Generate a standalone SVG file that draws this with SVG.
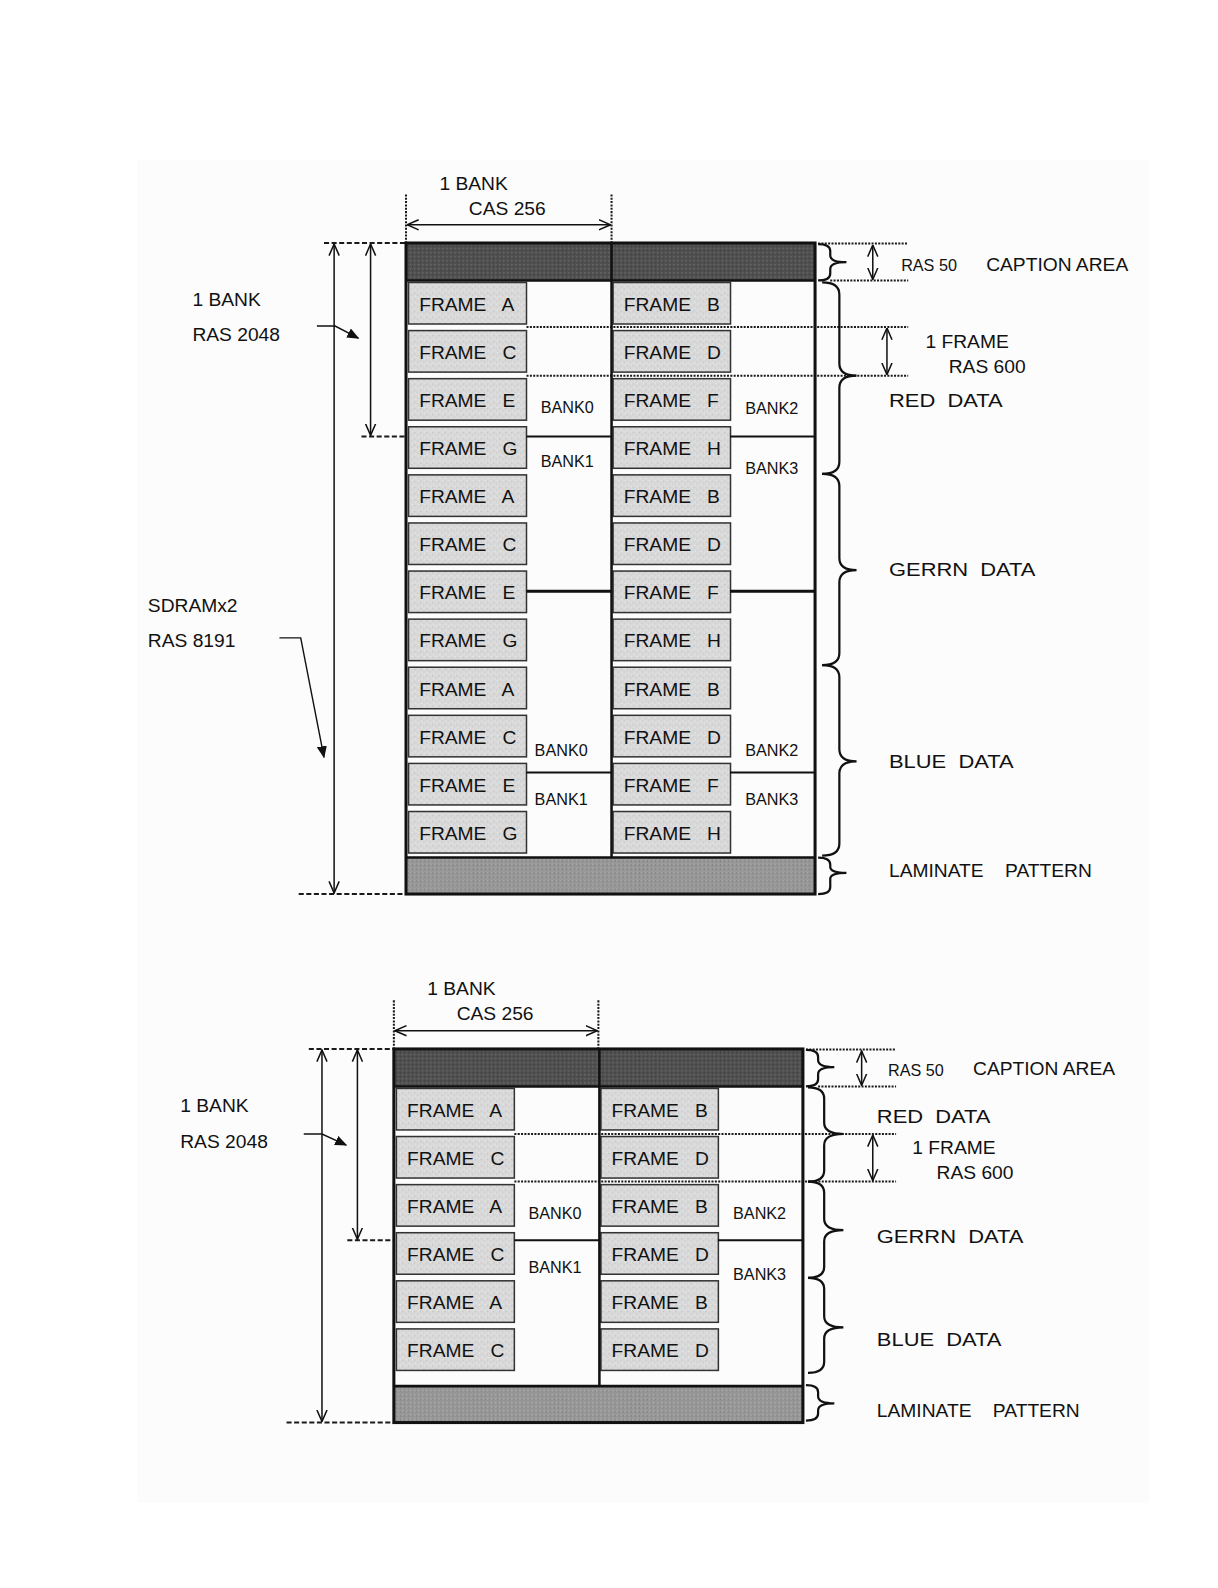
<svg xmlns="http://www.w3.org/2000/svg" width="1218" height="1588" viewBox="0 0 1218 1588">
<style>
text{font-family:"Liberation Sans",Arial,sans-serif;fill:#111;white-space:pre}
.t{font-size:19px}
.s{font-size:16px}
.f{font-size:19px;word-spacing:2.7px}
.d{font-size:19px}
.fr{fill:url(#stip);stroke:#333;stroke-width:1.5}
.cap{fill:url(#dark);stroke:none}
.lam{fill:url(#mid);stroke:none}
.box{fill:none;stroke:#111;stroke-width:3}
.div{stroke:#111;stroke-width:2.5;fill:none}
.bank{stroke:#111;stroke-width:2;fill:none}
.dot{stroke:#1a1a1a;stroke-width:2;stroke-dasharray:2 1.3;fill:none}
.dash{stroke:#1a1a1a;stroke-width:2;stroke-dasharray:5 2.5;fill:none}
.dim{stroke:#111;stroke-width:1.5;fill:none;marker-start:url(#oa);marker-end:url(#oa)}
.ptr{stroke:#111;stroke-width:1.4;fill:none;marker-end:url(#fa)}
.br{stroke:#111;stroke-width:2.2;fill:none}
</style>
<defs>
<pattern id="stip" width="6" height="6" patternUnits="userSpaceOnUse">
<rect width="6" height="6" fill="#d9d9d9"/>
<rect x="1" y="1" width="1" height="1" fill="#b8b8b8"/>
<rect x="4" y="3" width="1" height="1" fill="#c2c2c2"/>
<rect x="2" y="4" width="1" height="1" fill="#eeeeee"/>
<rect x="5" y="0" width="1" height="1" fill="#ebebeb"/>
</pattern>
<pattern id="dark" width="4" height="4" patternUnits="userSpaceOnUse">
<rect width="4" height="4" fill="#505050"/>
<rect x="1" y="1" width="1" height="1" fill="#777"/>
<rect x="3" y="3" width="1" height="1" fill="#333"/>
</pattern>
<pattern id="mid" width="4" height="4" patternUnits="userSpaceOnUse">
<rect width="4" height="4" fill="#979797"/>
<rect x="1" y="1" width="1" height="1" fill="#b8b8b8"/>
<rect x="3" y="2" width="1" height="1" fill="#777"/>
</pattern>
<marker id="oa" viewBox="0 0 12 12" markerWidth="12" markerHeight="12" refX="11.5" refY="6" orient="auto-start-reverse" markerUnits="userSpaceOnUse">
<path d="M0,1 L11.5,6 L0,11" fill="none" stroke="#111" stroke-width="1.5"/>
</marker>
<marker id="fa" viewBox="0 0 12 10" markerWidth="12" markerHeight="10" refX="11" refY="5" orient="auto" markerUnits="userSpaceOnUse">
<path d="M0,0 L12,5 L0,10 Z" fill="#111"/>
</marker>
</defs>
<rect x="137" y="160" width="1012" height="1343" fill="#fcfcfc"/>
<g transform="scale(1.0125)">
<!-- ===== TOP DIAGRAM ===== -->
<g id="top">
<g id="top-labels">
<text class="t" x="434" y="188">1 BANK</text>
<text class="t" x="463" y="212">CAS 256</text>
<text class="t" x="190" y="302">1 BANK</text>
<text class="t" x="190" y="337">RAS 2048</text>
<text class="t" x="146" y="604">SDRAMx2</text>
<text class="t" x="146" y="639">RAS 8191</text>
<text class="s" x="890" y="268">RAS 50</text>
<text class="t" x="974" y="268">CAPTION AREA</text>
<text class="t" x="914" y="344">1 FRAME</text>
<text class="t" x="937" y="368">RAS 600</text>
<text class="d" transform="translate(878,402) scale(1.14,1)">RED  DATA</text>
<text class="d" transform="translate(878,569) scale(1.14,1)">GERRN  DATA</text>
<text class="d" transform="translate(878,759) scale(1.14,1)">BLUE  DATA</text>
<text class="t" x="878" y="866">LAMINATE    PATTERN</text>
</g>
<g id="top-memory">
<rect class="cap" x="401" y="240" width="404" height="37"/>
<rect class="lam" x="401" y="847" width="404" height="36"/>
</g>
<g id="top-frames">
<g id="tA0"><rect class="fr" x="403.5" y="279" width="116.5" height="41"/><text class="f" x="414" y="307">FRAME  A</text></g>
<g id="tB0"><rect class="fr" x="605.5" y="279" width="116" height="41"/><text class="f" x="616" y="307">FRAME  B</text></g>
<g id="tC0"><rect class="fr" x="403.5" y="326.5" width="116.5" height="41"/><text class="f" x="414" y="354.5">FRAME  C</text></g>
<g id="tD0"><rect class="fr" x="605.5" y="326.5" width="116" height="41"/><text class="f" x="616" y="354.5">FRAME  D</text></g>
<g id="tE0"><rect class="fr" x="403.5" y="374" width="116.5" height="41"/><text class="f" x="414" y="402">FRAME  E</text></g>
<g id="tF0"><rect class="fr" x="605.5" y="374" width="116" height="41"/><text class="f" x="616" y="402">FRAME  F</text></g>
<g id="tG0"><rect class="fr" x="403.5" y="421.5" width="116.5" height="41"/><text class="f" x="414" y="449.5">FRAME  G</text></g>
<g id="tH0"><rect class="fr" x="605.5" y="421.5" width="116" height="41"/><text class="f" x="616" y="449.5">FRAME  H</text></g>
<g id="tA1"><rect class="fr" x="403.5" y="469" width="116.5" height="41"/><text class="f" x="414" y="497">FRAME  A</text></g>
<g id="tB1"><rect class="fr" x="605.5" y="469" width="116" height="41"/><text class="f" x="616" y="497">FRAME  B</text></g>
<g id="tC1"><rect class="fr" x="403.5" y="516.5" width="116.5" height="41"/><text class="f" x="414" y="544.5">FRAME  C</text></g>
<g id="tD1"><rect class="fr" x="605.5" y="516.5" width="116" height="41"/><text class="f" x="616" y="544.5">FRAME  D</text></g>
<g id="tE1"><rect class="fr" x="403.5" y="564" width="116.5" height="41"/><text class="f" x="414" y="592">FRAME  E</text></g>
<g id="tF1"><rect class="fr" x="605.5" y="564" width="116" height="41"/><text class="f" x="616" y="592">FRAME  F</text></g>
<g id="tG1"><rect class="fr" x="403.5" y="611.5" width="116.5" height="41"/><text class="f" x="414" y="639.5">FRAME  G</text></g>
<g id="tH1"><rect class="fr" x="605.5" y="611.5" width="116" height="41"/><text class="f" x="616" y="639.5">FRAME  H</text></g>
<g id="tA2"><rect class="fr" x="403.5" y="659" width="116.5" height="41"/><text class="f" x="414" y="687">FRAME  A</text></g>
<g id="tB2"><rect class="fr" x="605.5" y="659" width="116" height="41"/><text class="f" x="616" y="687">FRAME  B</text></g>
<g id="tC2"><rect class="fr" x="403.5" y="706.5" width="116.5" height="41"/><text class="f" x="414" y="734.5">FRAME  C</text></g>
<g id="tD2"><rect class="fr" x="605.5" y="706.5" width="116" height="41"/><text class="f" x="616" y="734.5">FRAME  D</text></g>
<g id="tE2"><rect class="fr" x="403.5" y="754" width="116.5" height="41"/><text class="f" x="414" y="782">FRAME  E</text></g>
<g id="tF2"><rect class="fr" x="605.5" y="754" width="116" height="41"/><text class="f" x="616" y="782">FRAME  F</text></g>
<g id="tG2"><rect class="fr" x="403.5" y="801.5" width="116.5" height="41"/><text class="f" x="414" y="829.5">FRAME  G</text></g>
<g id="tH2"><rect class="fr" x="605.5" y="801.5" width="116" height="41"/><text class="f" x="616" y="829.5">FRAME  H</text></g>
</g>
<g id="top-banks">
<text class="s" x="534" y="408">BANK0</text>
<text class="s" x="534" y="461">BANK1</text>
<text class="s" x="736" y="409">BANK2</text>
<text class="s" x="736" y="468">BANK3</text>
<text class="s" x="528" y="747">BANK0</text>
<text class="s" x="528" y="795">BANK1</text>
<text class="s" x="736" y="747">BANK2</text>
<text class="s" x="736" y="795">BANK3</text>
</g>
<g id="top-connectors">
<path class="dot" d="M401,192 V240 M604,192 V240"/>
<path class="dim" d="M402,222 H603"/>
<path class="dot" d="M520,323 H897 M520,371 H897 M808,240.5 H897 M820,277 H897"/>
<path class="bank" d="M520,431 H604 M721,431 H805 M520,763 H604 M721,763 H805"/>
<path class="bank" style="stroke-width:3" d="M520,584 H604 M721,584 H805"/>
<path class="dash" d="M320,240 H401 M295,883 H401 M357,431 H401"/>
<path class="dim" d="M330,241 V882"/>
<path class="dim" d="M366,241 V430"/>
<path class="ptr" d="M313,322 H331 L354,334"/>
<path class="ptr" d="M276,630 H297 L320,748"/>
<path class="dim" d="M862,242 V276"/>
<path class="dim" d="M876,324 V370"/>
<path class="br" d="M808,241 Q820,241 820,248 L820,252 Q820,259 836,259 Q820,259 820,266 L820,270 Q820,277 808,277"/>
<path class="br" d="M812,279 Q829,279 829,291 L829,359 Q829,371 846,371 Q829,371 829,383 L829,456 Q829,468 812,468"/>
<path class="br" d="M812,468 Q829,468 829,480 L829,551 Q829,563 846,563 Q829,563 829,575 L829,645 Q829,657 812,657"/>
<path class="br" d="M812,657 Q829,657 829,669 L829,740 Q829,752 846,752 Q829,752 829,764 L829,833 Q829,845 812,845"/>
<path class="br" d="M808,847 Q820,847 820,854 L820,856 Q820,862 836,862 Q820,862 820,868 L820,876 Q820,883 808,883"/>
</g>
<g id="top-frame-lines">
<path class="div" d="M604,240 V847"/>
<path class="div" d="M401,277 H805 M401,847 H805"/>
<rect class="box" x="401" y="240" width="404" height="643"/>
</g>
</g>

<!-- ===== BOTTOM DIAGRAM ===== -->
<g id="bottom" transform="translate(-12,796)">
<g id="bot-labels">
<text class="t" x="434" y="187">1 BANK</text>
<text class="t" x="463" y="211">CAS 256</text>
<text class="t" x="190" y="302">1 BANK</text>
<text class="t" x="190" y="338">RAS 2048</text>
<text class="s" x="889" y="267">RAS 50</text>
<text class="t" x="973" y="266">CAPTION AREA</text>
<text class="d" transform="translate(878,313) scale(1.14,1)">RED  DATA</text>
<text class="t" x="913" y="344">1 FRAME</text>
<text class="t" x="937" y="368">RAS 600</text>
<text class="d" transform="translate(878,432) scale(1.14,1)">GERRN  DATA</text>
<text class="d" transform="translate(878,533) scale(1.14,1)">BLUE  DATA</text>
<text class="t" x="878" y="604">LAMINATE    PATTERN</text>
</g>
<g id="bot-memory">
<rect class="cap" x="401" y="240" width="404" height="37"/>
<rect class="lam" x="401" y="573" width="404" height="36"/>
</g>
<g id="bot-frames">
<g id="bA0"><rect class="fr" x="403.5" y="279" width="116.5" height="41"/><text class="f" x="414" y="307">FRAME  A</text></g>
<g id="bB0"><rect class="fr" x="605.5" y="279" width="116" height="41"/><text class="f" x="616" y="307">FRAME  B</text></g>
<g id="bC0"><rect class="fr" x="403.5" y="326.5" width="116.5" height="41"/><text class="f" x="414" y="354.5">FRAME  C</text></g>
<g id="bD0"><rect class="fr" x="605.5" y="326.5" width="116" height="41"/><text class="f" x="616" y="354.5">FRAME  D</text></g>
<g id="bA1"><rect class="fr" x="403.5" y="374" width="116.5" height="41"/><text class="f" x="414" y="402">FRAME  A</text></g>
<g id="bB1"><rect class="fr" x="605.5" y="374" width="116" height="41"/><text class="f" x="616" y="402">FRAME  B</text></g>
<g id="bC1"><rect class="fr" x="403.5" y="421.5" width="116.5" height="41"/><text class="f" x="414" y="449.5">FRAME  C</text></g>
<g id="bD1"><rect class="fr" x="605.5" y="421.5" width="116" height="41"/><text class="f" x="616" y="449.5">FRAME  D</text></g>
<g id="bA2"><rect class="fr" x="403.5" y="469" width="116.5" height="41"/><text class="f" x="414" y="497">FRAME  A</text></g>
<g id="bB2"><rect class="fr" x="605.5" y="469" width="116" height="41"/><text class="f" x="616" y="497">FRAME  B</text></g>
<g id="bC2"><rect class="fr" x="403.5" y="516.5" width="116.5" height="41"/><text class="f" x="414" y="544.5">FRAME  C</text></g>
<g id="bD2"><rect class="fr" x="605.5" y="516.5" width="116" height="41"/><text class="f" x="616" y="544.5">FRAME  D</text></g>
</g>
<g id="bot-banks">
<text class="s" x="534" y="408">BANK0</text>
<text class="s" x="534" y="461">BANK1</text>
<text class="s" x="736" y="408">BANK2</text>
<text class="s" x="736" y="468">BANK3</text>
</g>
<g id="bot-connectors">
<path class="dot" d="M401,192 V240 M603,192 V240"/>
<path class="dim" d="M402,222 H602"/>
<path class="dot" d="M520,324 H897 M520,371 H897 M808,240.5 H897 M820,277 H897"/>
<path class="bank" d="M520,429 H604 M721,429 H805"/>
<path class="dash" d="M317,240 H401 M295,609 H401 M355,429 H401"/>
<path class="dim" d="M330,241 V608"/>
<path class="dim" d="M365,241 V428"/>
<path class="ptr" d="M312,324 H330 L354,335"/>
<path class="dim" d="M863,242 V276"/>
<path class="dim" d="M874,325 V370"/>
<path class="br" d="M808,241 Q820,241 820,248 L820,251 Q820,258 836,258 Q820,258 820,265 L820,270 Q820,277 808,277"/>
<path class="br" d="M810,278 Q826,278 826,289 L826,313 Q826,324 845,324 Q826,324 826,335 L826,360 Q826,371 810,371"/>
<path class="br" d="M810,371 Q826,371 826,382 L826,408 Q826,419 845,419 Q826,419 826,430 L826,455 Q826,466 810,466"/>
<path class="br" d="M810,466 Q826,466 826,477 L826,504 Q826,515 845,515 Q826,515 826,526 L826,549 Q826,560 810,560"/>
<path class="br" d="M808,572 Q820,572 820,579 L820,583 Q820,590 836,590 Q820,590 820,597 L820,600 Q820,607 808,607"/>
</g>
<g id="bot-frame-lines">
<path class="div" d="M604,240 V573"/>
<path class="div" d="M401,277 H805 M401,573 H805"/>
<rect class="box" x="401" y="240" width="404" height="369"/>
</g>
</g>
</g>
</svg>
